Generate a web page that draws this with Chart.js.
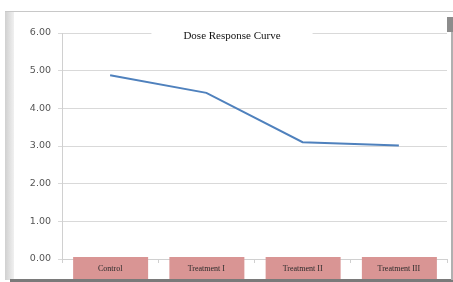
<!DOCTYPE html>
<html>
<head>
<meta charset="utf-8">
<script src="https://cdn.jsdelivr.net/npm/chart.js@4"></script>
<style>
  html, body { margin: 0; padding: 0; background: #fff; }
  #wrap { width: 453px; height: 282px; }
</style>
</head>
<body>
<div id="wrap"><canvas id="doseCanvas" width="453" height="282"></canvas></div>
<script>
let categories = ["Control", "Treatment I", "Treatment II", "Treatment III"];
let response = [4.88, 4.41, 3.10, 3.01];
let yTicks = [0, 1, 2, 3, 4, 5, 6];
let chartTitle = "Dose Response Curve";

// frame, label boxes and title drawn round the chart
let excelLook = {
    id: "excelLook",
    beforeDraw(chart) {
        let c = chart.ctx;
        c.save();
        c.fillStyle = "#ffffff";
        c.fillRect(0, 0, 453, 282);
        c.strokeStyle = "#c8c8c8";
        c.lineWidth = 1;
        c.beginPath();
        c.moveTo(5, 11.5); c.lineTo(453, 11.5);
        c.stroke();
        let g = c.createLinearGradient(5, 0, 15, 0);
        g.addColorStop(0, "#d0d0d0");
        g.addColorStop(1, "#f4f4f4");
        c.fillStyle = g;
        c.fillRect(5, 12, 9, 268);
        c.fillStyle = "#7a7a7a";
        c.fillRect(10, 279, 443, 3);
        c.fillStyle = "#8c8c8c";
        c.fillRect(447, 17, 6, 15);
        c.fillStyle = "#b0b0b0";
        c.fillRect(451, 32, 2, 248);
        c.restore();
    },
    afterDraw(chart) {
        let c = chart.ctx;
        c.save();
        // pink boxes with the category labels
        let x = chart.scales.x;
        c.font = "8px 'Liberation Serif'";
        c.textAlign = "center";
        c.textBaseline = "middle";
        categories.forEach((cat, i) => {
            let px = x.getPixelForTick(i);
            c.fillStyle = "#d99594";
            c.fillRect(px - 37, 257, 75, 22);
            c.fillStyle = "#2a2a2a";
            c.fillText(cat, px, 268.5);
        });
        // title sitting on the top gridline
        c.font = "11px 'Liberation Serif'";
        let w = c.measureText(chartTitle).width;
        let cx = 232;
        let cy = chart.scales.y.getPixelForValue(6);
        c.fillStyle = "#ffffff";
        c.fillRect(cx - w / 2 - 32, cy - 3, w + 64, 6);
        c.fillStyle = "#111111";
        c.fillText(chartTitle, cx, cy + 3);
        c.restore();
    }
};

let ctx = document.getElementById("doseCanvas");

let data = {
    labels: categories,
    datasets: [
        {
            data: response,
            borderColor: "#4f81bd",
            borderWidth: 2,
            pointRadius: 0,
            tension: 0,
            fill: false
        }]
};

let options = {
    responsive: false,
    animation: false,
    layout: { padding: { top: 33, right: 6, left: 0, bottom: 0 } },
    plugins: {
        legend: { display: false },
        title: { display: false },
        tooltip: { enabled: false }
    },
    scales: {
        x: {
            offset: true,
            afterFit(scale) { scale.height = 23; },
            grid: { drawOnChartArea: false, offset: true, tickLength: 4, color: "#d0d0d0" },
            border: { color: "#d0d0d0" },
            ticks: {
                padding: 2,
                color: "rgba(0,0,0,0)",
                font: { family: "'Liberation Serif'", size: 8 },
                maxRotation: 0
            }
        },
        y: {
            min: 0,
            max: 6,
            afterFit(scale) { scale.width = 62; },
            afterBuildTicks(scale) { scale.ticks = yTicks.map(v => ({ value: v })); },
            grid: { color: "#d9d9d9", tickLength: 4, lineWidth: 1 },
            border: { color: "#d0d0d0" },
            ticks: {
                padding: 7,
                color: "#555555",
                font: { family: "'DejaVu Sans'", size: 9.5 },
                callback: v => v.toFixed(2)
            }
        }
    }
};

var doseChart = new Chart(ctx, {
    type: "line",
    data: data,
    options: options,
    plugins: [excelLook]
});
</script>
</body>
</html>
